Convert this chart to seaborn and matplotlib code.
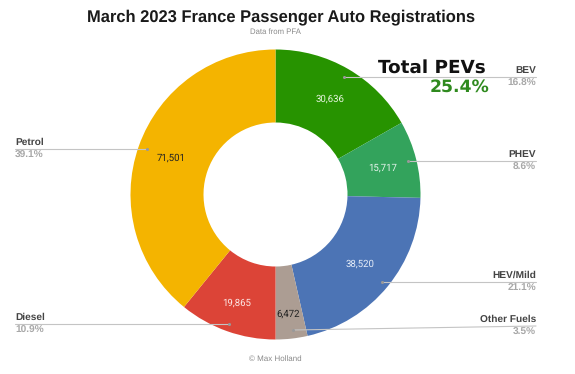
import matplotlib
matplotlib.use('Agg')
import matplotlib.pyplot as plt
import seaborn as sns

# March 2023 registrations, clockwise from the top
fuels = ['BEV', 'PHEV', 'HEV/Mild', 'Other Fuels', 'Diesel', 'Petrol']
registrations = [30636, 15717, 38520, 6472, 19865, 71501]
shares = ['16.8%', '8.6%', '21.1%', '3.5%', '10.9%', '39.1%']

colors = ['#279300', '#33a35c', '#4c74b5', '#ac9d93', '#dc4437', '#f4b400']
value_colors = ['#e8f5e0', '#e8f5ee', '#e6edf8', '#222222', '#fde8e6', '#222222']

sns.set_theme(style='white')
plt.rcParams['font.family'] = ['Liberation Sans', 'DejaVu Sans']
plt.rcParams['text.hinting'] = 'none'

W, H = 575, 374
fig = plt.figure(figsize=(W / 100, H / 100), dpi=100)
ax = fig.add_axes([0, 0, 1, 1])


def fy(y):
    # picture rows run downwards
    return H - y


ax.pie(registrations, colors=colors, startangle=90, counterclock=False,
       center=(275.5, fy(194.5)), radius=145,
       wedgeprops={'width': 73, 'linewidth': 0})
ax.set_xlim(0, W)
ax.set_ylim(0, H)
ax.set_aspect('equal')
ax.axis('off')

# value labels on the ring
value_xy = [(330, 99), (383, 168), (360, 264), (288, 314), (237, 303), (171, 158)]
for v, (x, y), c in zip(registrations, value_xy, value_colors):
    ax.text(x, fy(y), f'{v:,}', color=c, fontsize=6.9, ha='center', va='center',
            family=['Roboto', 'DejaVu Sans'])

# leader lines: inner end x, inner end y, outer end y
leaders = [(344, 76.5, 76.5), (408, 161, 161), (382, 282, 282),
           (293, 330, 326), (229, 324, 324), (147, 149, 149)]
for i, (x0, y0, y1) in enumerate(leaders):
    x1 = 536 if i < 4 else 15
    ax.plot([x0, x1], [fy(y0), fy(y1)], color='#c4c4c4', lw=0.8)
    ax.plot([x0], [fy(y0)], 'o', ms=1.2, color='#999999')
    ha = 'right' if i < 4 else 'left'
    ax.text(x1, fy(y1 - 6.5), fuels[i], color='#444444', fontsize=7.3,
            fontweight='bold', ha=ha, va='center', family=['Liberation Sans', 'DejaVu Sans'])
    ax.text(x1, fy(y1 + 6.5), shares[i], color='#a8a8a8', fontsize=7.3,
            fontweight='bold', ha=ha, va='center', family=['Liberation Sans', 'DejaVu Sans'])

ax.text(281.5, fy(17), 'March 2023 France Passenger Auto Registrations', color='#1a1a1a',
        fontsize=11.9, fontweight='bold', ha='center', va='center')
ax.text(275, fy(31.5), 'Data from PFA', color='#8a8a8a', fontsize=5.6, ha='center', va='center')
ax.text(275.5, fy(359), '© Max Holland', color='#8a8a8a', fontsize=5.8, ha='center', va='center')
ax.text(486, fy(68), 'Total PEVs', color='#111111', fontsize=13.2, fontweight='bold',
        ha='right', va='center', family=['DejaVu Sans'])
ax.text(489, fy(87.5), '25.4%', color='#2f8a1e', fontsize=12.4, fontweight='bold',
        ha='right', va='center', family=['DejaVu Sans'])

fig.savefig('out.png', dpi=100)
